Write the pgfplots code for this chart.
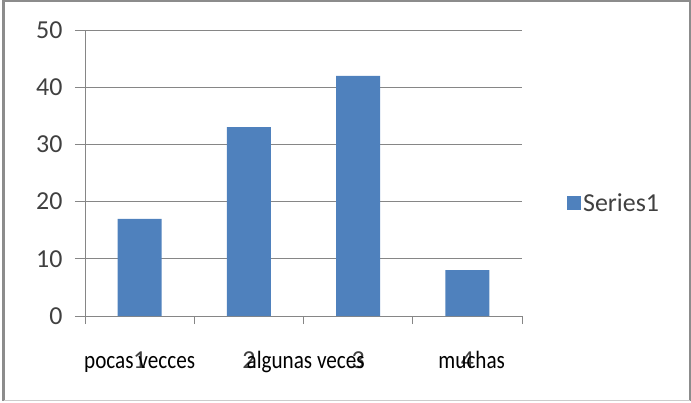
\documentclass[border=0pt]{standalone}
\usepackage{pgfplots}
\pgfplotsset{compat=1.18}
\usepackage{fontspec}
\setmainfont{Carlito}
\newfontfamily\narrowfont[FakeStretch=0.85]{Carlito}
\definecolor{barblue}{HTML}{4F81BD}
\definecolor{gridgray}{HTML}{868686}
\definecolor{labgray}{HTML}{404040}
\begin{document}
\begin{tikzpicture}[x=1bp,y=1bp]
\path[use as bounding box] (0,0) rectangle (691,402);
\draw[gray!90, line width=2.5bp] (3.5,401) -- (3.5,1.5);
\draw[gray!90, line width=2.5bp] (2,401) -- (690,401) -- (690,1.5);
\draw[gray!40, line width=1.5bp] (3.5,1.5) -- (690,1.5);
\begin{axis}[
  at={(85bp,86bp)}, anchor=south west,
  scale only axis, width=437bp, height=286bp,
  xmin=0.5, xmax=4.5, ymin=0, ymax=50,
  axis lines*=left,
  axis line style={gridgray, line width=0.9bp},
  ytick={0,10,20,30,40,50},
  ymajorgrids, grid style={gridgray, line width=0.9bp},
  xtick={1,2,3,4}, xticklabels={1,2,3,4},
  minor xtick={0.5,1.5,2.5,3.5,4.5},
  tick align=outside,
  major tick length=10bp,
  minor tick length=8bp,
  x tick style={draw=none},
  minor x tick style={draw=gridgray, line width=0.9bp},
  y tick style={gridgray, line width=0.9bp},
  yticklabel style={font=\fontsize{26}{26}\selectfont, text=labgray, xshift=-9bp},
  xticklabel style={font=\fontsize{26}{26}\selectfont, text=labgray, anchor=base, yshift=-42bp},
  /pgf/number format/assume math mode=true,
  clip=false,
  legend style={draw=none, fill=none, at={(1.096,0.395)}, anchor=west,
    font=\fontsize{26}{26}\selectfont, text=labgray, legend cell align=left},
  legend image code/.code={\fill[barblue] (-6bp,-7bp) rectangle (8bp,7bp);},
]
\addplot[ybar, bar width=44bp, fill=barblue, draw=none] coordinates {(1,17) (2,33) (3,42) (4,8)};
\addlegendentry{Series1}
\node[font=\narrowfont\fontsize{25}{25}\selectfont, anchor=base, text=black] at (axis cs:1,-9.2) {pocas vecces};
\node[font=\narrowfont\fontsize{25}{25}\selectfont, anchor=base, text=black] at (axis cs:2.52,-9.2) {algunas veces};
\node[font=\narrowfont\fontsize{25}{25}\selectfont, anchor=base, text=black] at (axis cs:4.04,-9.2) {muchas};
\end{axis}
\end{tikzpicture}
\end{document}
